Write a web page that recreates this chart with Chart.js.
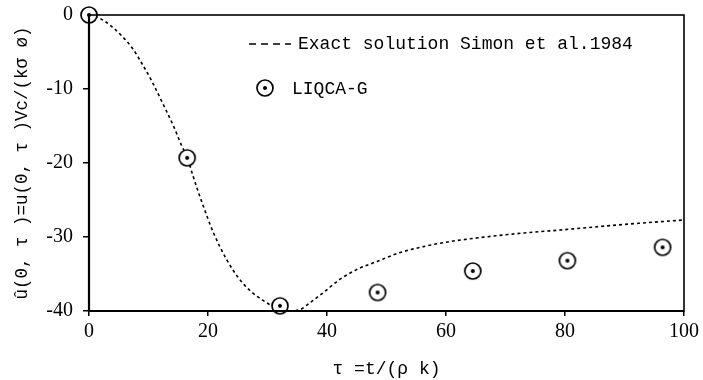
<!DOCTYPE html>
<html>
<head>
<meta charset="utf-8">
<script src="https://cdn.jsdelivr.net/npm/chart.js@4"></script>
<style>
  html, body { margin: 0; padding: 0; background: #fff; }
  #wrap { width: 703px; height: 380px; }
</style>
</head>
<body>
<div id="wrap"><canvas id="c"></canvas></div>
<script>
// exact solution (Simon et al. 1984)
const tauExact = [0, 1.7, 3.9, 5.6, 7.3, 9.0, 10.6, 12.3, 14.2, 15.6, 16.5, 17.5, 19.2, 20.9, 23.1, 25.1, 27.0, 29.3, 31.5, 33.5, 35.5, 37.1, 39.4, 42.2, 45, 48.4, 52.3, 56.2, 60, 70, 80, 90, 100];
const uExact = [0, -0.4, -1.6, -2.9, -4.5, -6.7, -9.0, -11.8, -15.0, -17.7, -19.2, -21.8, -25.8, -29.4, -33.0, -35.5, -37.2, -38.6, -39.6, -40, -39.8, -38.9, -37.5, -35.7, -34.4, -33.3, -32.1, -31.3, -30.7, -29.7, -29.0, -28.3, -27.7];
// LIQCA-G
const tauLiqca = [0, 16.5, 32.1, 48.5, 64.5, 80.4, 96.4];
const uLiqca = [0, -19.3, -39.3, -37.5, -34.6, -33.2, -31.4];
const xTicks = [0, 20, 40, 60, 80, 100];
const yTicks = [0, -10, -20, -30, -40];
const labelExact = 'Exact solution Simon et al.1984';
const labelLiqca = 'LIQCA-G';

const monoFont = '"Liberation Mono", monospace';
const tickFont = { family: '"Liberation Serif", serif', size: 20 };

// circle with a dot in the middle
function makeMarker () {
    const m = document.createElement('canvas');
    m.width = 22; m.height = 22;
    const g = m.getContext('2d');
    g.beginPath();
    g.arc(11, 11, 8, 0, Math.PI * 2);
    g.fillStyle = '#fff';
    g.fill();
    g.lineWidth = 1.7;
    g.strokeStyle = '#000';
    g.stroke();
    g.beginPath();
    g.arc(11, 11, 2, 0, Math.PI * 2);
    g.fillStyle = '#000';
    g.fill();
    return m;
}
const marker = makeMarker();

const framePlugin = {
    id: 'frame',
    afterDraw (chart) {
        const a = chart.chartArea;
        const ctx = chart.ctx;
        ctx.save();
        ctx.strokeStyle = '#000';
        ctx.lineWidth = 1.6;
        ctx.strokeRect(a.left, a.top, a.right - a.left, a.bottom - a.top);
        ctx.lineWidth = 2.2;
        ctx.beginPath();
        ctx.moveTo(a.left, a.top);
        ctx.lineTo(a.left, a.bottom);
        ctx.lineTo(a.right, a.bottom);
        ctx.stroke();

        // legend
        ctx.font = '18px ' + monoFont;
        ctx.fillStyle = '#000';
        ctx.textBaseline = 'middle';
        ctx.lineWidth = 1.5;
        ctx.setLineDash([7, 5]);
        ctx.beginPath();
        ctx.moveTo(249, 44);
        ctx.lineTo(291, 44);
        ctx.stroke();
        ctx.setLineDash([]);
        ctx.fillText(labelExact, 298, 44);
        ctx.drawImage(marker, 265 - 11, 88 - 11);
        ctx.fillText(labelLiqca, 292, 89);
        ctx.restore();
    }
};

new Chart(document.getElementById('c'), {
    type: 'scatter',
    data: {
        datasets: [
            {
                label: labelExact,
                data: tauExact.map((t, i) => ({ x: t, y: uExact[i] })),
                showLine: true,
                borderColor: '#000',
                borderWidth: 1.6,
                borderDash: [3, 3],
                pointRadius: 0,
                cubicInterpolationMode: 'monotone',
                order: 2
            },
            {
                label: labelLiqca,
                data: tauLiqca.map((t, i) => ({ x: t, y: uLiqca[i] })),
                pointStyle: marker,
                pointRadius: 9,
                clip: false,
                order: 1
            }
        ]
    },
    options: {
        responsive: true,
        maintainAspectRatio: false,
        animation: false,
        layout: { padding: { top: 15, right: 19, left: 0, bottom: 0 } },
        plugins: { legend: { display: false }, tooltip: { enabled: false } },
        scales: {
            x: {
                type: 'linear',
                min: 0, max: 100,
                afterFit (s) { s.height = 69; s.paddingLeft = 0; s.paddingRight = 0; },
                afterBuildTicks (s) { s.ticks = xTicks.map(v => ({ value: v })); },
                grid: { drawOnChartArea: false, drawTicks: true, tickLength: 5, color: '#000', lineWidth: 1.5 },
                border: { display: false },
                ticks: { color: '#000', font: tickFont, padding: 4, maxRotation: 0 },
                title: {
                    display: true,
                    text: 'τ =t/(ρ k)',
                    color: '#000',
                    font: { family: monoFont, size: 18 },
                    padding: { top: 4, bottom: 0 }
                }
            },
            y: {
                type: 'linear',
                min: -40, max: 0,
                afterFit (s) { s.width = 89; s.paddingTop = 0; s.paddingBottom = 0; },
                afterBuildTicks (s) { s.ticks = yTicks.map(v => ({ value: v })); },
                grid: { drawOnChartArea: false, drawTicks: true, tickLength: 6, color: '#000', lineWidth: 1.5 },
                border: { display: false },
                ticks: { color: '#000', font: tickFont, padding: 10 },
                title: {
                    display: true,
                    text: 'û(0, τ )=u(0, τ )Vc/(kσ ø)',
                    color: '#000',
                    font: { family: monoFont, size: 17.5 },
                    padding: { top: 12, bottom: 4 }
                }
            }
        }
    },
    plugins: [framePlugin]
});
</script>
</body>
</html>
